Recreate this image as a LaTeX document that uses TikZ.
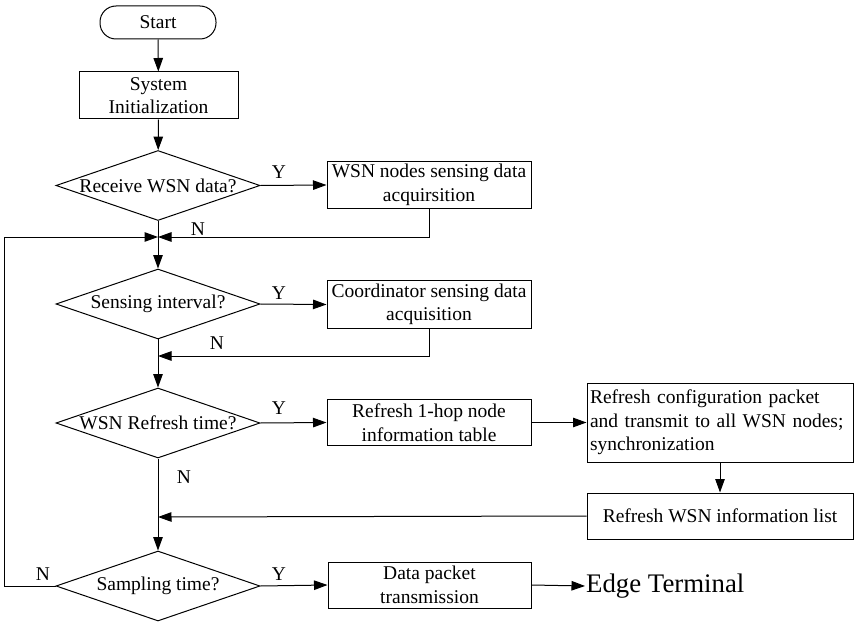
\documentclass[tikz,border=0pt]{standalone}
\usepackage{fontspec}
\setmainfont{Liberation Serif}
\usetikzlibrary{shapes.geometric,arrows.meta}

\tikzset{
  base/.style={draw, line width=1pt, inner sep=3pt, align=center,
    font=\fontsize{19.5}{23.5}\selectfont},
  terminal/.style={base, rounded corners=16pt, minimum width=116pt, minimum height=33pt},
  process/.style={base, rectangle, minimum width=204pt, minimum height=46pt},
  widebox/.style={base, rectangle, minimum width=266pt, minimum height=46pt},
  decision/.style={base, diamond, minimum width=204pt, minimum height=70pt, inner sep=0pt},
  flow/.style={line width=1pt, -{Triangle[length=13.5pt,width=9.5pt]}},
  mark label/.style={font=\fontsize{19.5}{23.5}\selectfont, inner sep=0pt}
}

\begin{document}
\begin{tikzpicture}[x=1pt,y=-1pt]
  \useasboundingbox (0,0) rectangle (854,623);

  % main column
  \node[terminal] (start) at (158,22.5) {Start};
  \node[process, minimum width=159pt, minimum height=47pt] (init) at (158.5,95.5) {System\\Initialization};
  \node[decision] (d1) at (158,185.5) {\makebox[0pt]{Receive WSN data?}};
  \node[decision] (d2) at (158,304) {\makebox[0pt]{Sensing interval?}};
  \node[decision] (d3) at (158,423) {\makebox[0pt]{WSN Refresh time?}};
  \node[decision] (d4) at (158,586) {\makebox[0pt]{Sampling time?}};

  % branch boxes
  \node[process] (b1) at (429,185) {WSN nodes sensing data\\acquirsition};
  \node[process] (b2) at (429,304.5) {Coordinator sensing data\\acquisition};
  \node[process] (b3) at (429,422.5) {Refresh 1-hop node\\information table};
  \node[widebox, minimum height=79pt, text width=260pt, align=left] (b4) at (720,422.5)
    {Refresh configuration packet\\and transmit to all WSN nodes;\\synchronization};
  \node[widebox] (b5) at (720,516) {Refresh WSN information list};
  \node[process, minimum width=203pt] (b6) at (429.5,585) {Data packet\\transmission};
  \node[anchor=west, inner sep=1pt, font=\fontsize{26.8}{31}\selectfont] (edge) at (585,586) {Edge Terminal};

  % merge points on the main column
  \coordinate (m1) at (158,237);
  \coordinate (m2) at (158,356);
  \coordinate (m3) at (158,517);

  % main column connectors
  \draw[flow] (start) -- (init);
  \draw[flow] (init) -- (d1);
  \draw[flow] (d1) -- (d2);
  \draw[flow] (d2) -- (d3);
  \draw[flow] (d3) -- (d4);

  % yes branches
  \draw[flow] (d1.east) -- (b1.west);
  \draw[flow] (d2.east) -- (b2.west);
  \draw[flow] (d3.east) -- (b3.west);
  \draw[flow] (d4.east) -- (b6.west);
  \draw[flow] (b3.east) -- (b4.west);
  \draw[flow] (b4.south) -- (b5.north);
  \draw[flow] (b6.east) -- (edge.west);

  % returns to the main column
  \draw[flow] (b1.south) |- (m1);
  \draw[flow] (b2.south) |- (m2);
  \draw[flow] (b5.west) -- (m3);
  \draw[flow] (d4.west) -- ++(-51.5,0) |- (m1);

  % branch labels
  \node[mark label] (y1) at (279,172) {Y};
  \node[mark label] (y2) at (279,293) {Y};
  \node[mark label] (y3) at (279,408) {Y};
  \node[mark label] (y4) at (279,574) {Y};
  \node[mark label] (n1) at (198,229) {N};
  \node[mark label] (n2) at (217,343) {N};
  \node[mark label] (n3) at (184,477) {N};
  \node[mark label] (n4) at (43,574) {N};
\end{tikzpicture}
\end{document}
